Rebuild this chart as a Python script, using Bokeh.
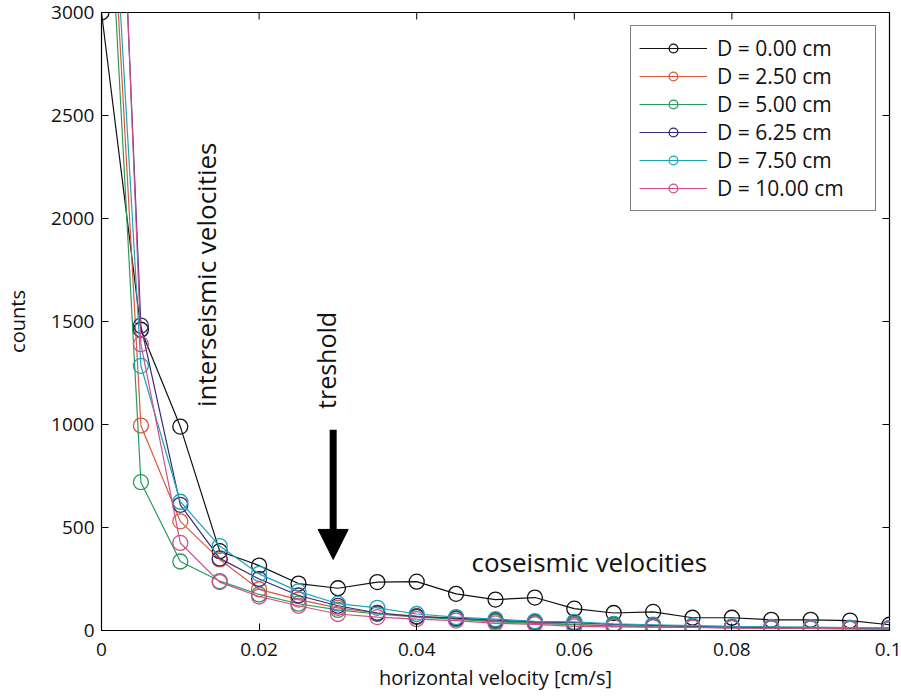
import math
from bokeh.plotting import figure
from bokeh.models import (ColumnDataSource, Range1d, Legend, LegendItem,
                          Label, Arrow, NormalHead, FixedTicker)
from bokeh.embed import file_html
from bokeh.resources import INLINE

# ---------------- data ----------------
velocity = [0.000, 0.005, 0.010, 0.015, 0.020, 0.025, 0.030, 0.035, 0.040, 0.045, 0.050,
            0.055, 0.060, 0.065, 0.070, 0.075, 0.080, 0.085, 0.090, 0.095, 0.100]

counts_d000 = [3000, 1460, 990, 385, 315, 228, 205, 235, 237, 178, 150,
               160, 106, 85, 90, 62, 62, 52, 52, 48, 28]
counts_d250 = [4500, 995, 530, 345, 200, 150, 110, 85, 70, 58, 45,
               38, 30, 22, 18, 16, 14, 12, 10, 9, 8]
counts_d500 = [4300, 720, 335, 240, 175, 130, 100, 80, 65, 55, 42,
               35, 28, 22, 18, 16, 14, 12, 10, 9, 8]
counts_d625 = [6000, 1480, 610, 350, 250, 170, 120, 85, 68, 60, 50,
               42, 38, 30, 25, 20, 18, 15, 14, 12, 12]
counts_d750 = [4600, 1285, 625, 410, 275, 190, 130, 110, 80, 65, 55,
               45, 42, 32, 28, 24, 20, 18, 16, 14, 12]
counts_d1000 = [6200, 1390, 425, 235, 165, 120, 80, 65, 55, 48, 35,
                30, 20, 18, 16, 15, 12, 10, 10, 8, 6]

series_labels = ["D = 0.00 cm", "D = 2.50 cm", "D = 5.00 cm",
                 "D = 6.25 cm", "D = 7.50 cm", "D = 10.00 cm"]
series_counts = [counts_d000, counts_d250, counts_d500, counts_d625, counts_d750, counts_d1000]
series_colors = ["#111111", "#d9583c", "#2a9a5c", "#3b2878", "#1fa3b8", "#cf4f8c"]

x_ticks = [0, 0.02, 0.04, 0.06, 0.08, 0.1]
x_tick_labels = ["0", "0.02", "0.04", "0.06", "0.08", "0.1"]
y_ticks = [0, 500, 1000, 1500, 2000, 2500, 3000]

X_MIN, X_MAX = 0, 0.1
Y_MIN, Y_MAX = 0, 3000

FONT = "Open Sans"
FRAME_W, FRAME_H = 788, 618

p = figure(frame_width=FRAME_W, frame_height=FRAME_H,
           min_border_left=101, min_border_right=12, min_border_top=12, min_border_bottom=70,
           x_range=Range1d(X_MIN, X_MAX), y_range=Range1d(Y_MIN, Y_MAX),
           output_backend="svg", toolbar_location=None, tools="",
           background_fill_color="white", border_fill_color="white")

p.xgrid.visible = False
p.ygrid.visible = False
p.outline_line_color = "#000000"
p.outline_line_width = 1.2

for ax in (p.xaxis[0], p.yaxis[0]):
    ax.major_tick_in = 7
    ax.major_tick_out = 0
    ax.minor_tick_in = 0
    ax.minor_tick_out = 0
    ax.axis_line_color = "#000000"
    ax.major_tick_line_color = "#000000"
    ax.major_label_text_font = FONT
    ax.major_label_text_font_size = "19px"
    ax.major_label_text_color = "#111111"
    ax.axis_label_text_font = FONT
    ax.axis_label_text_font_size = "20px"
    ax.axis_label_text_font_style = "normal"
    ax.axis_label_text_color = "#111111"

p.xaxis[0].ticker = FixedTicker(ticks=x_ticks)
p.xaxis[0].major_label_overrides = {t: l for t, l in zip(x_ticks, x_tick_labels)}
p.xaxis[0].axis_label = "horizontal velocity [cm/s]"
p.xaxis[0].major_label_standoff = 12
p.xaxis[0].axis_label_standoff = 5

p.yaxis[0].ticker = FixedTicker(ticks=y_ticks)
p.yaxis[0].axis_label = "counts"
p.yaxis[0].major_label_standoff = 7
p.yaxis[0].axis_label_standoff = 17

# inner ticks on the top and right frame edges (same tick positions as the axes)
tick_len_y = (Y_MAX - Y_MIN) * 7 / FRAME_H
tick_len_x = (X_MAX - X_MIN) * 7 / FRAME_W
p.segment(x0=x_ticks, y0=[Y_MAX] * len(x_ticks), x1=x_ticks, y1=[Y_MAX - tick_len_y] * len(x_ticks),
          line_color="#000000", line_width=1)
p.segment(x0=[X_MAX] * len(y_ticks), y0=y_ticks, x1=[X_MAX - tick_len_x] * len(y_ticks), y1=y_ticks,
          line_color="#000000", line_width=1)

legend_items = []
for label, counts, color in zip(series_labels, series_counts, series_colors):
    src = ColumnDataSource(dict(x=velocity, y=counts))
    ln = p.line("x", "y", source=src, line_color=color, line_width=1.2)
    sc = p.scatter("x", "y", source=src, marker="circle", size=15,
                   line_color=color, line_width=1.3, fill_alpha=0)
    legend_items.append(LegendItem(label=label, renderers=[ln, sc]))

legend = Legend(items=legend_items, location="top_right",
                label_text_font=FONT, label_text_font_size="21px", label_text_color="#111111",
                glyph_width=68, glyph_height=22, label_height=22, label_width=150,
                label_standoff=10, spacing=0, padding=8, margin=13,
                border_line_color="#000000", border_line_width=1.2,
                background_fill_color="white", background_fill_alpha=1.0)
p.add_layout(legend)

# annotations
p.add_layout(Label(x=0.0132, y=1727, text="interseismic velocities", angle=math.pi / 2,
                   text_align="center", text_baseline="middle",
                   text_font=FONT, text_font_size="26px", text_color="#111111"))
p.add_layout(Label(x=0.0285, y=1311, text="treshold", angle=math.pi / 2,
                   text_align="center", text_baseline="middle",
                   text_font=FONT, text_font_size="25px", text_color="#111111"))
p.add_layout(Label(x=0.0619, y=334, text="coseismic velocities",
                   text_align="center", text_baseline="middle",
                   text_font=FONT, text_font_size="26px", text_color="#111111"))
p.add_layout(Arrow(x_start=0.0294, y_start=975, x_end=0.0294, y_end=345,
                   line_width=7, line_color="#000000",
                   end=NormalHead(size=30, fill_color="#000000", line_color="#000000")))

open("out.html", "w").write(file_html(p, INLINE))
